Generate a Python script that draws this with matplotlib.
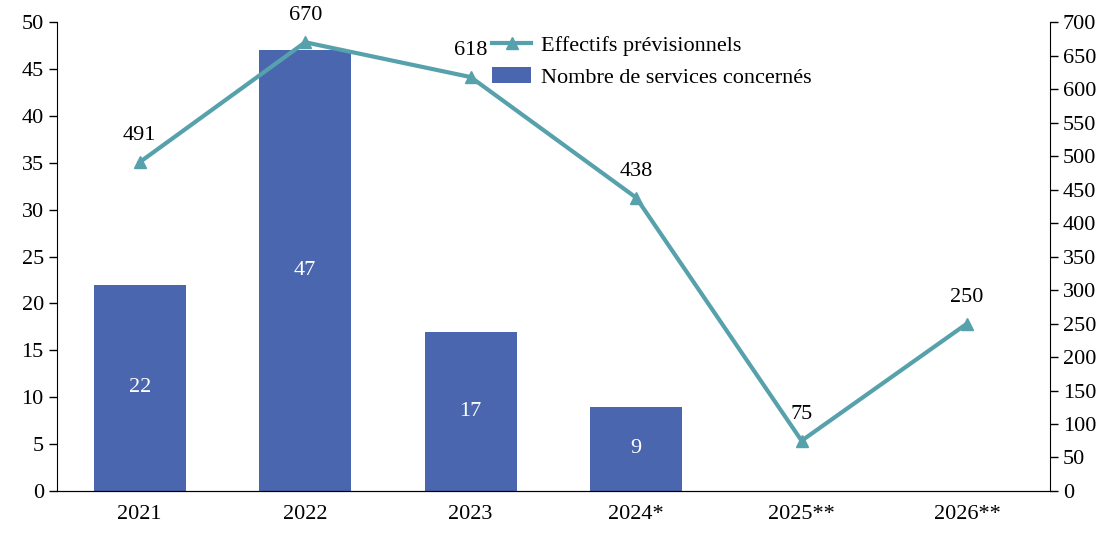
import numpy as np
import matplotlib.pyplot as plt

plt.rcParams['font.family'] = ['Liberation Serif', 'DejaVu Serif']

years = ["2021", "2022", "2023", "2024*", "2025**", "2026**"]
services = [22, 47, 17, 9, None, None]
effectifs = [491, 670, 618, 438, 75, 250]

bar_color = "#4A66AE"
line_color = "#56A1AB"
fs = 16

fig = plt.figure(figsize=(11.18, 5.37), dpi=100)
ax = fig.add_axes([0.051, 0.0857, 0.888, 0.873])
ax2 = ax.twinx()

x = np.arange(len(years))
bx = [i for i, v in enumerate(services) if v is not None]
bv = [v for v in services if v is not None]
bars = ax.bar(bx, bv, width=0.555, color=bar_color, label="Nombre de services concernés", zorder=2)
for i, v in zip(bx, bv):
    ax.text(i, v / 2, str(v), ha="center", va="center", color="white", fontsize=fs)

line, = ax2.plot(x, effectifs, color=line_color, lw=3.0, marker="^", markersize=8,
                 label="Effectifs prévisionnels", zorder=3)
for i, v in zip(x, effectifs):
    ax2.annotate(str(v), (i, v), xytext=(0, 19), textcoords="offset points",
                 ha="center", va="center", fontsize=fs)

ax.set_xlim(-0.5, 5.5)
ax.set_ylim(0, 50)
ax.set_yticks(np.arange(0, 51, 5))
ax2.set_ylim(0, 700)
ax2.set_yticks(np.arange(0, 701, 50))
ax.set_xticks(x)
ax.set_xticklabels(years)

for a in (ax, ax2):
    a.spines["top"].set_visible(False)
    a.tick_params(axis="both", labelsize=fs, width=1, length=6)
ax.tick_params(axis="x", length=0, pad=10)
ax2.spines["left"].set_visible(False)
ax.spines["right"].set_visible(False)

ax2.legend(handles=[line, bars], loc="upper left", bbox_to_anchor=(0.425, 1.0),
           frameon=False, fontsize=fs, handlelength=1.75, handletextpad=0.45,
           borderaxespad=0.2, labelspacing=0.5)

fig.savefig("out.png", dpi=100)
